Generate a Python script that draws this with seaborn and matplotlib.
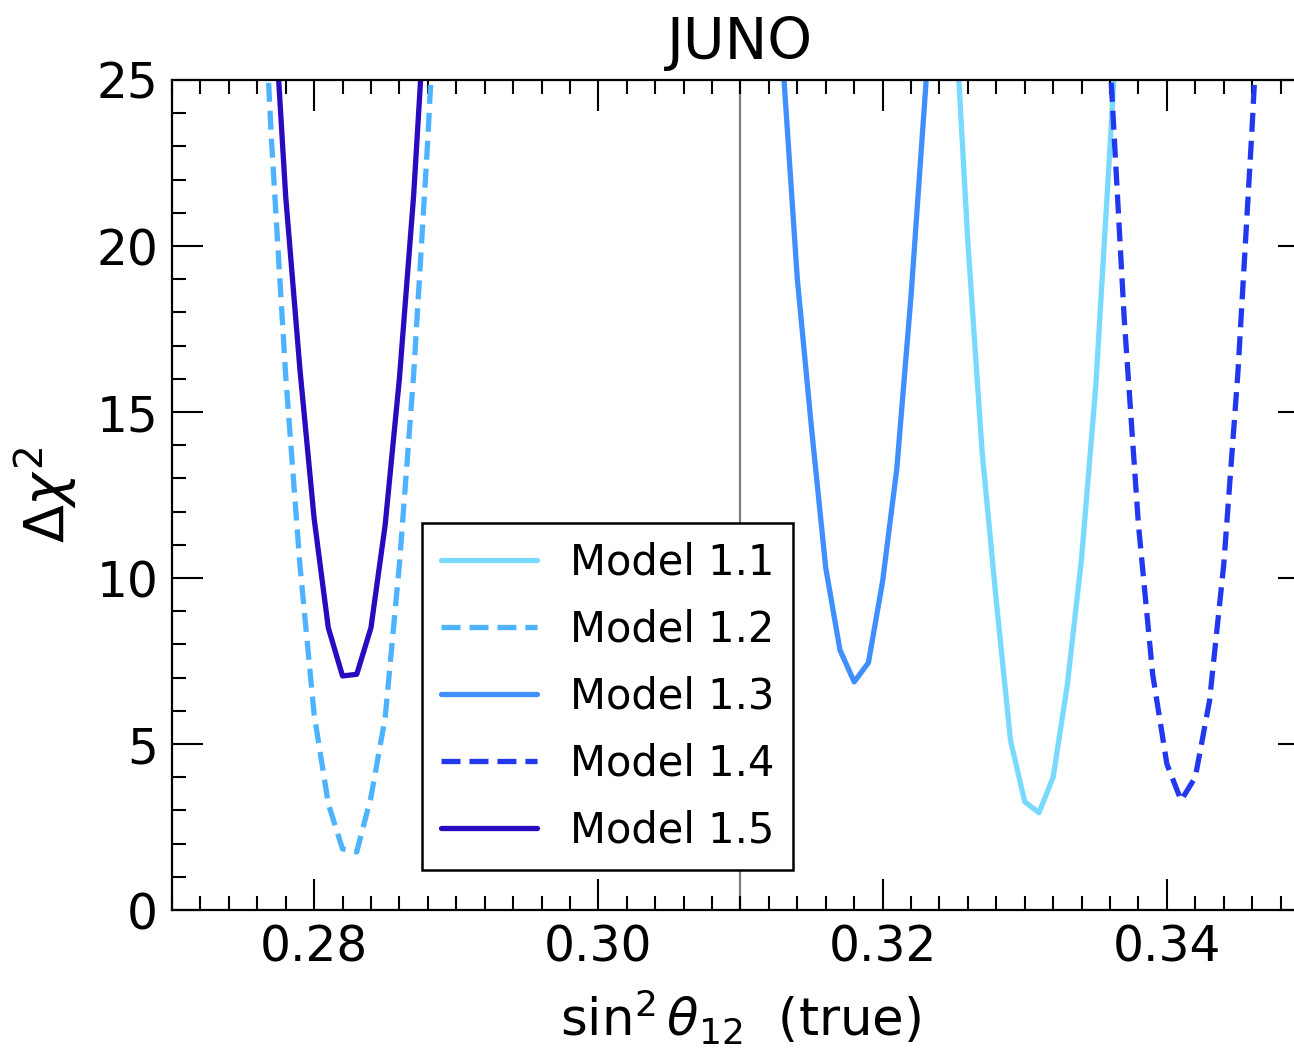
import numpy as np
import pandas as pd
import matplotlib
matplotlib.use("Agg")
import matplotlib.pyplot as plt
import seaborn as sns
from matplotlib.ticker import MultipleLocator

# Delta chi^2 scans vs true sin^2(theta_12)
x_m11 = [0.325, 0.326, 0.327, 0.328, 0.329, 0.330, 0.331, 0.332, 0.333, 0.334, 0.335, 0.336, 0.337]
y_m11 = [27.8, 20.1, 13.8, 9.3, 5.1, 3.26, 2.93, 4.0, 6.8, 10.6, 15.8, 23.0, 30.5]

x_m12 = [0.276, 0.277, 0.278, 0.279, 0.280, 0.281, 0.282, 0.283, 0.284, 0.285, 0.286, 0.287, 0.288, 0.289]
y_m12 = [31.7, 23.2, 16.1, 10.4, 5.9, 3.2, 1.84, 1.75, 3.4, 5.8, 10.4, 16.1, 23.2, 31.7]

x_m13 = [0.312, 0.313, 0.314, 0.315, 0.316, 0.317, 0.318, 0.319, 0.320, 0.321, 0.322, 0.323, 0.324]
y_m13 = [33.0, 25.4, 19.0, 14.5, 10.3, 7.83, 6.87, 7.45, 9.9, 13.3, 18.5, 24.6, 31.0]

x_m14 = [0.335, 0.336, 0.337, 0.338, 0.339, 0.340, 0.341, 0.342, 0.343, 0.344, 0.345, 0.346, 0.347]
y_m14 = [34.0, 25.6, 17.8, 11.6, 7.1, 4.4, 3.3, 4.0, 6.3, 10.4, 16.2, 23.6, 32.0]

x_m15 = [0.277, 0.278, 0.279, 0.280, 0.281, 0.282, 0.283, 0.284, 0.285, 0.286, 0.287, 0.288]
y_m15 = [28.6, 21.5, 16.3, 11.8, 8.5, 7.05, 7.1, 8.5, 11.6, 16.0, 21.5, 28.6]

labels = ["Model 1.1", "Model 1.2", "Model 1.3", "Model 1.4", "Model 1.5"]
colors = ["#79d9ff", "#4db3ff", "#3f8fff", "#2238ee", "#2a0abf"]
dashed = [False, True, False, True, False]
true_value = 0.310

sns.set_style("ticks")
plt.rcParams['font.family'] = ['DejaVu Sans']
plt.rcParams['mathtext.fontset'] = 'dejavusans'
for key in ['text.color', 'axes.labelcolor', 'xtick.color', 'ytick.color']:
    plt.rcParams[key] = 'black'

fig = plt.figure(figsize=(12.94, 10.54), dpi=100)
ax = fig.add_axes([0.1329, 0.1366, 0.8787, 0.7875])

series = [(x_m11, y_m11), (x_m12, y_m12), (x_m13, y_m13), (x_m14, y_m14), (x_m15, y_m15)]
for (xs, ys), lab, col, dsh in zip(series, labels, colors, dashed):
    line = sns.lineplot(x=xs, y=ys, ax=ax, color=col, linewidth=3.8, label=lab).lines[-1]
    if dsh:
        line.set_dashes((3.6, 1.7))

ax.axvline(true_value, color="#808080", linewidth=1.6, zorder=0)

ax.set_xlim(0.27, 0.35)
ax.set_ylim(0, 25)
ax.xaxis.set_major_locator(MultipleLocator(0.02))
ax.xaxis.set_minor_locator(MultipleLocator(0.002))
ax.yaxis.set_major_locator(MultipleLocator(5))
ax.yaxis.set_minor_locator(MultipleLocator(1))
ax.set_xticks([0.28, 0.30, 0.32, 0.34])
ax.set_xticklabels(["0.28", "0.30", "0.32", "0.34"])

ax.tick_params(which="both", direction="in", top=True, right=True, labelsize=35, color="black")
ax.tick_params(which="major", length=22, width=1.5, pad=10)
ax.tick_params(which="minor", length=10, width=1.5)
for sp in ax.spines.values():
    sp.set_linewidth(1.6)
    sp.set_color("black")

ax.set_xlabel(r"$\sin^2\theta_{12}$  (true)", fontsize=37, labelpad=12)
ax.set_ylabel(r"$\Delta\chi^2$", fontsize=40, labelpad=12)
ax.set_title("JUNO", fontsize=41, pad=15)

leg = ax.legend(loc="lower left", bbox_to_anchor=(0.22, 0.048), borderaxespad=0, fontsize=30,
                frameon=True, fancybox=False, edgecolor="black", framealpha=1,
                handlelength=2.3, handletextpad=0.8, labelspacing=0.6, borderpad=0.45)
leg.get_frame().set_linewidth(1.8)
for h, dsh in zip(leg.get_lines(), dashed):
    if dsh:
        h.set_dashes((3.6, 1.7))

fig.savefig("out.png", dpi=100)
